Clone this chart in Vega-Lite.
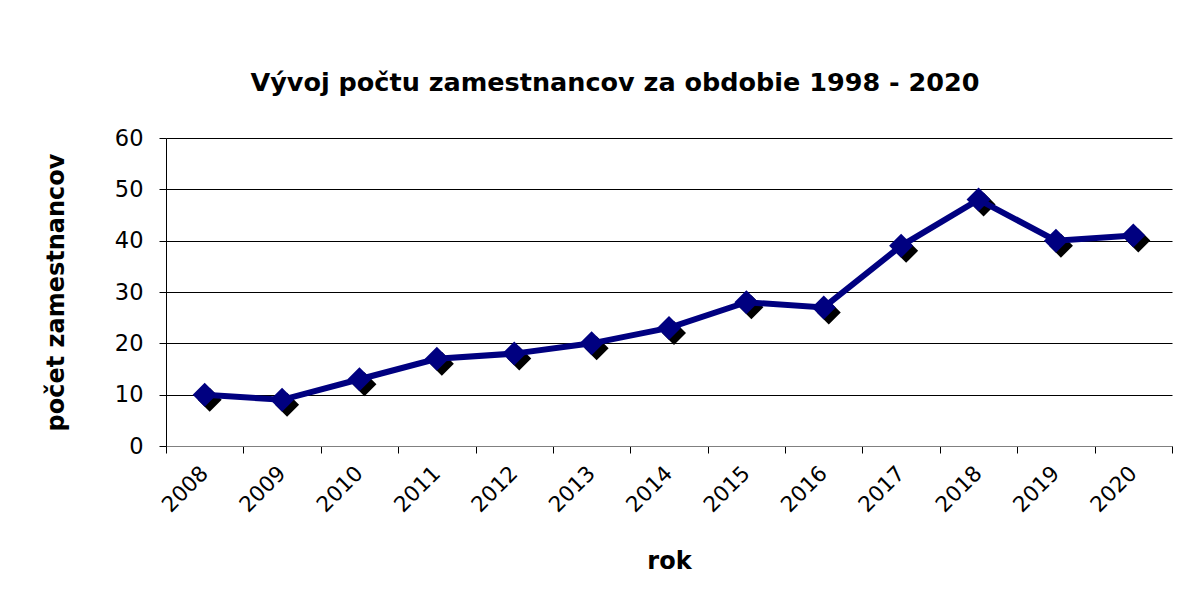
{
  "$schema": "https://vega.github.io/schema/vega-lite/v6.json",
  "width": 1006,
  "height": 308,
  "autosize": {"type": "none"},
  "padding": {"left": 166, "top": 138, "right": 23, "bottom": 161},
  "background": "white",
  "title": {
    "text": "Vývoj počtu zamestnancov za obdobie 1998 - 2020",
    "font": "DejaVu Sans",
    "fontSize": 25.5,
    "fontWeight": "bold",
    "color": "black",
    "anchor": "middle",
    "frame": "group",
    "baseline": "alphabetic",
    "offset": 11,
    "dx": -54
  },
  "data": {
    "values": [
      {"rok": "2008", "pocet": 10},
      {"rok": "2009", "pocet": 9},
      {"rok": "2010", "pocet": 13},
      {"rok": "2011", "pocet": 17},
      {"rok": "2012", "pocet": 18},
      {"rok": "2013", "pocet": 20},
      {"rok": "2014", "pocet": 23},
      {"rok": "2015", "pocet": 28},
      {"rok": "2016", "pocet": 27},
      {"rok": "2017", "pocet": 39},
      {"rok": "2018", "pocet": 48},
      {"rok": "2019", "pocet": 40},
      {"rok": "2020", "pocet": 41}
    ]
  },
  "encoding": {
    "x": {
      "field": "rok",
      "type": "ordinal",
      "scale": {"paddingInner": 0, "paddingOuter": 0},
      "axis": {
        "title": "rok",
        "titleFont": "DejaVu Sans",
        "titleFontSize": 24,
        "titleFontWeight": "bold",
        "titleColor": "black",
        "titlePadding": 33,
        "labelFont": "DejaVu Sans",
        "labelFontSize": 21.5,
        "labelColor": "black",
        "labelAngle": -45,
        "labelAlign": "right",
        "labelBaseline": "middle",
        "labelPadding": 17,
        "tickSize": 7,
        "tickColor": "black",
        "tickBand": "extent",
        "domainColor": "#808080",
        "grid": false
      }
    },
    "y": {
      "field": "pocet",
      "type": "quantitative",
      "scale": {"domain": [0, 60], "nice": false},
      "axis": {
        "title": "počet zamestnancov",
        "titleFont": "DejaVu Sans",
        "titleFontSize": 24,
        "titleFontWeight": "bold",
        "titleColor": "black",
        "titlePadding": 46,
        "values": [0, 10, 20, 30, 40, 50, 60],
        "labelFont": "DejaVu Sans",
        "labelFontSize": 22.5,
        "labelColor": "black",
        "labelPadding": 16,
        "tickSize": 7,
        "tickColor": "black",
        "domainColor": "black",
        "grid": true,
        "gridColor": "black",
        "gridOpacity": 1
      }
    }
  },
  "layer": [
    {"mark": {"type": "point", "shape": "diamond", "filled": true, "size": 576, "color": "black", "opacity": 1, "xOffset": 5, "yOffset": 5}},
    {"mark": {"type": "line", "color": "#000080", "strokeWidth": 6}},
    {"mark": {"type": "point", "shape": "diamond", "filled": true, "size": 576, "color": "#000080", "opacity": 1}}
  ],
  "config": {"view": {"stroke": null}}
}
